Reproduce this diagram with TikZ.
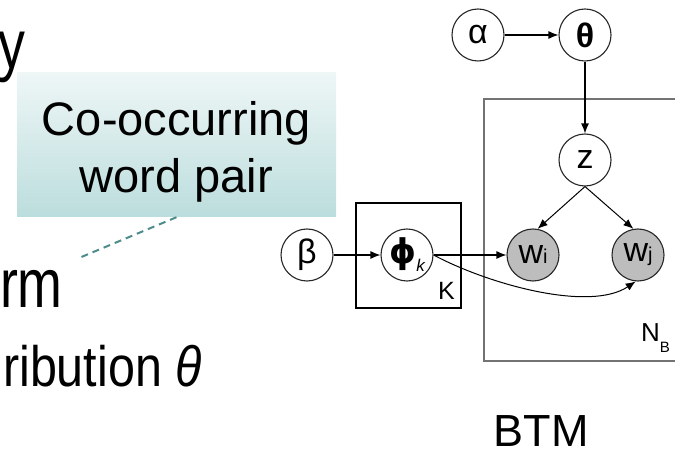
\documentclass[tikz,border=0pt]{standalone}
\usepackage{fontspec}
\setmainfont{Liberation Sans}
\newfontfamily\greekfont{DejaVu Sans}
\usetikzlibrary{arrows.meta}

\definecolor{pairtop}{HTML}{EEF6F6}
\definecolor{pairbottom}{HTML}{BCDDDD}
\definecolor{pairline}{HTML}{4E8C8C}

\tikzset{
  var/.style={circle, draw=black!85, line width=1.1pt, fill=white,
    minimum size=52pt, inner sep=0pt, font=\fontsize{34}{34}\selectfont},
  obs/.style={var, fill=gray!52},
  edge/.style={line width=1.2pt, -{Latex[length=10pt,width=8pt]}},
  plate/.style={line width=1.3pt},
  slidetext/.style={anchor=base east, inner sep=0pt},
}

\begin{document}
\begin{tikzpicture}[x=1pt,y=-1pt]
\useasboundingbox (0,0) rectangle (675,454);

% slide text behind the callout
\node[slidetext, font=\fontsize{69}{69}\selectfont] (titley) at (26,69) {\scalebox{0.78}[1]{y}};
\node[slidetext, font=\fontsize{69}{69}\selectfont] (titlerm) at (63,308) {\scalebox{0.78}[1]{rm}};
\node[slidetext, font=\fontsize{57}{57}\selectfont] (bullet) at (202,387) {\scalebox{0.85}[1]{ribution \textit{θ}}};

% callout
\node[top color=pairtop, bottom color=pairbottom, minimum width=319pt,
  minimum height=144pt, inner sep=0pt] (pair) at (176.5,145) {};
\node[font=\fontsize{47}{57}\selectfont, align=center] (pairtext) at (176.5,151.5) {Co-occurring\\word pair};
\coordinate (pairend) at (79,258);
\draw[pairline, line width=2pt, dash pattern=on 7pt off 5pt] (pair.south) -- (pairend);

% plates
\draw[plate] (356,203) rectangle (461,308);
\node[anchor=base west, inner sep=0pt, font=\fontsize{25}{25}\selectfont] (plateK) at (438,300) {K};
\draw[plate, line width=1.1pt, draw=black!55] (484,99) rectangle (678,361);
\node[anchor=base west, inner sep=0pt, font=\fontsize{26}{26}\selectfont] (plateN) at (641,342)
  {N\raisebox{-10pt}{\fontsize{15}{15}\selectfont B}};

% variables
\node[var] (alpha) at (478,35) {α};
\node[var] (theta) at (585,35) {\textbf{θ}};
\node[var] (z) at (585,160) {z};
\node[var] (beta) at (307,255) {β};
\node[var] (phi) at (407,255) {{\greekfont\bfseries ϕ}\raisebox{-8pt}{\fontsize{17}{17}\selectfont\itshape k}};
\node[obs] (wi) at (533,255) {w{\fontsize{20}{20}\selectfont i}};
\node[obs] (wj) at (638,255) {w{\fontsize{20}{20}\selectfont j}};

% edges
\draw[edge] (alpha) -- (theta);
\draw[edge] (theta) -- (z);
\draw[edge, line width=1pt] (z.south) -- (wi.80);
\draw[edge, line width=1pt] (z.south) -- (wj.100);
\draw[edge] (beta) -- (phi);
\draw[edge] (phi) -- (wi);
\draw[edge, line width=1pt] (phi.east) .. controls (490,285) and (590,312) .. (wj.265);

\node[anchor=base, inner sep=0pt, font=\fontsize{45}{45}\selectfont] (btm) at (541,446) {BTM};

\end{tikzpicture}
\end{document}
